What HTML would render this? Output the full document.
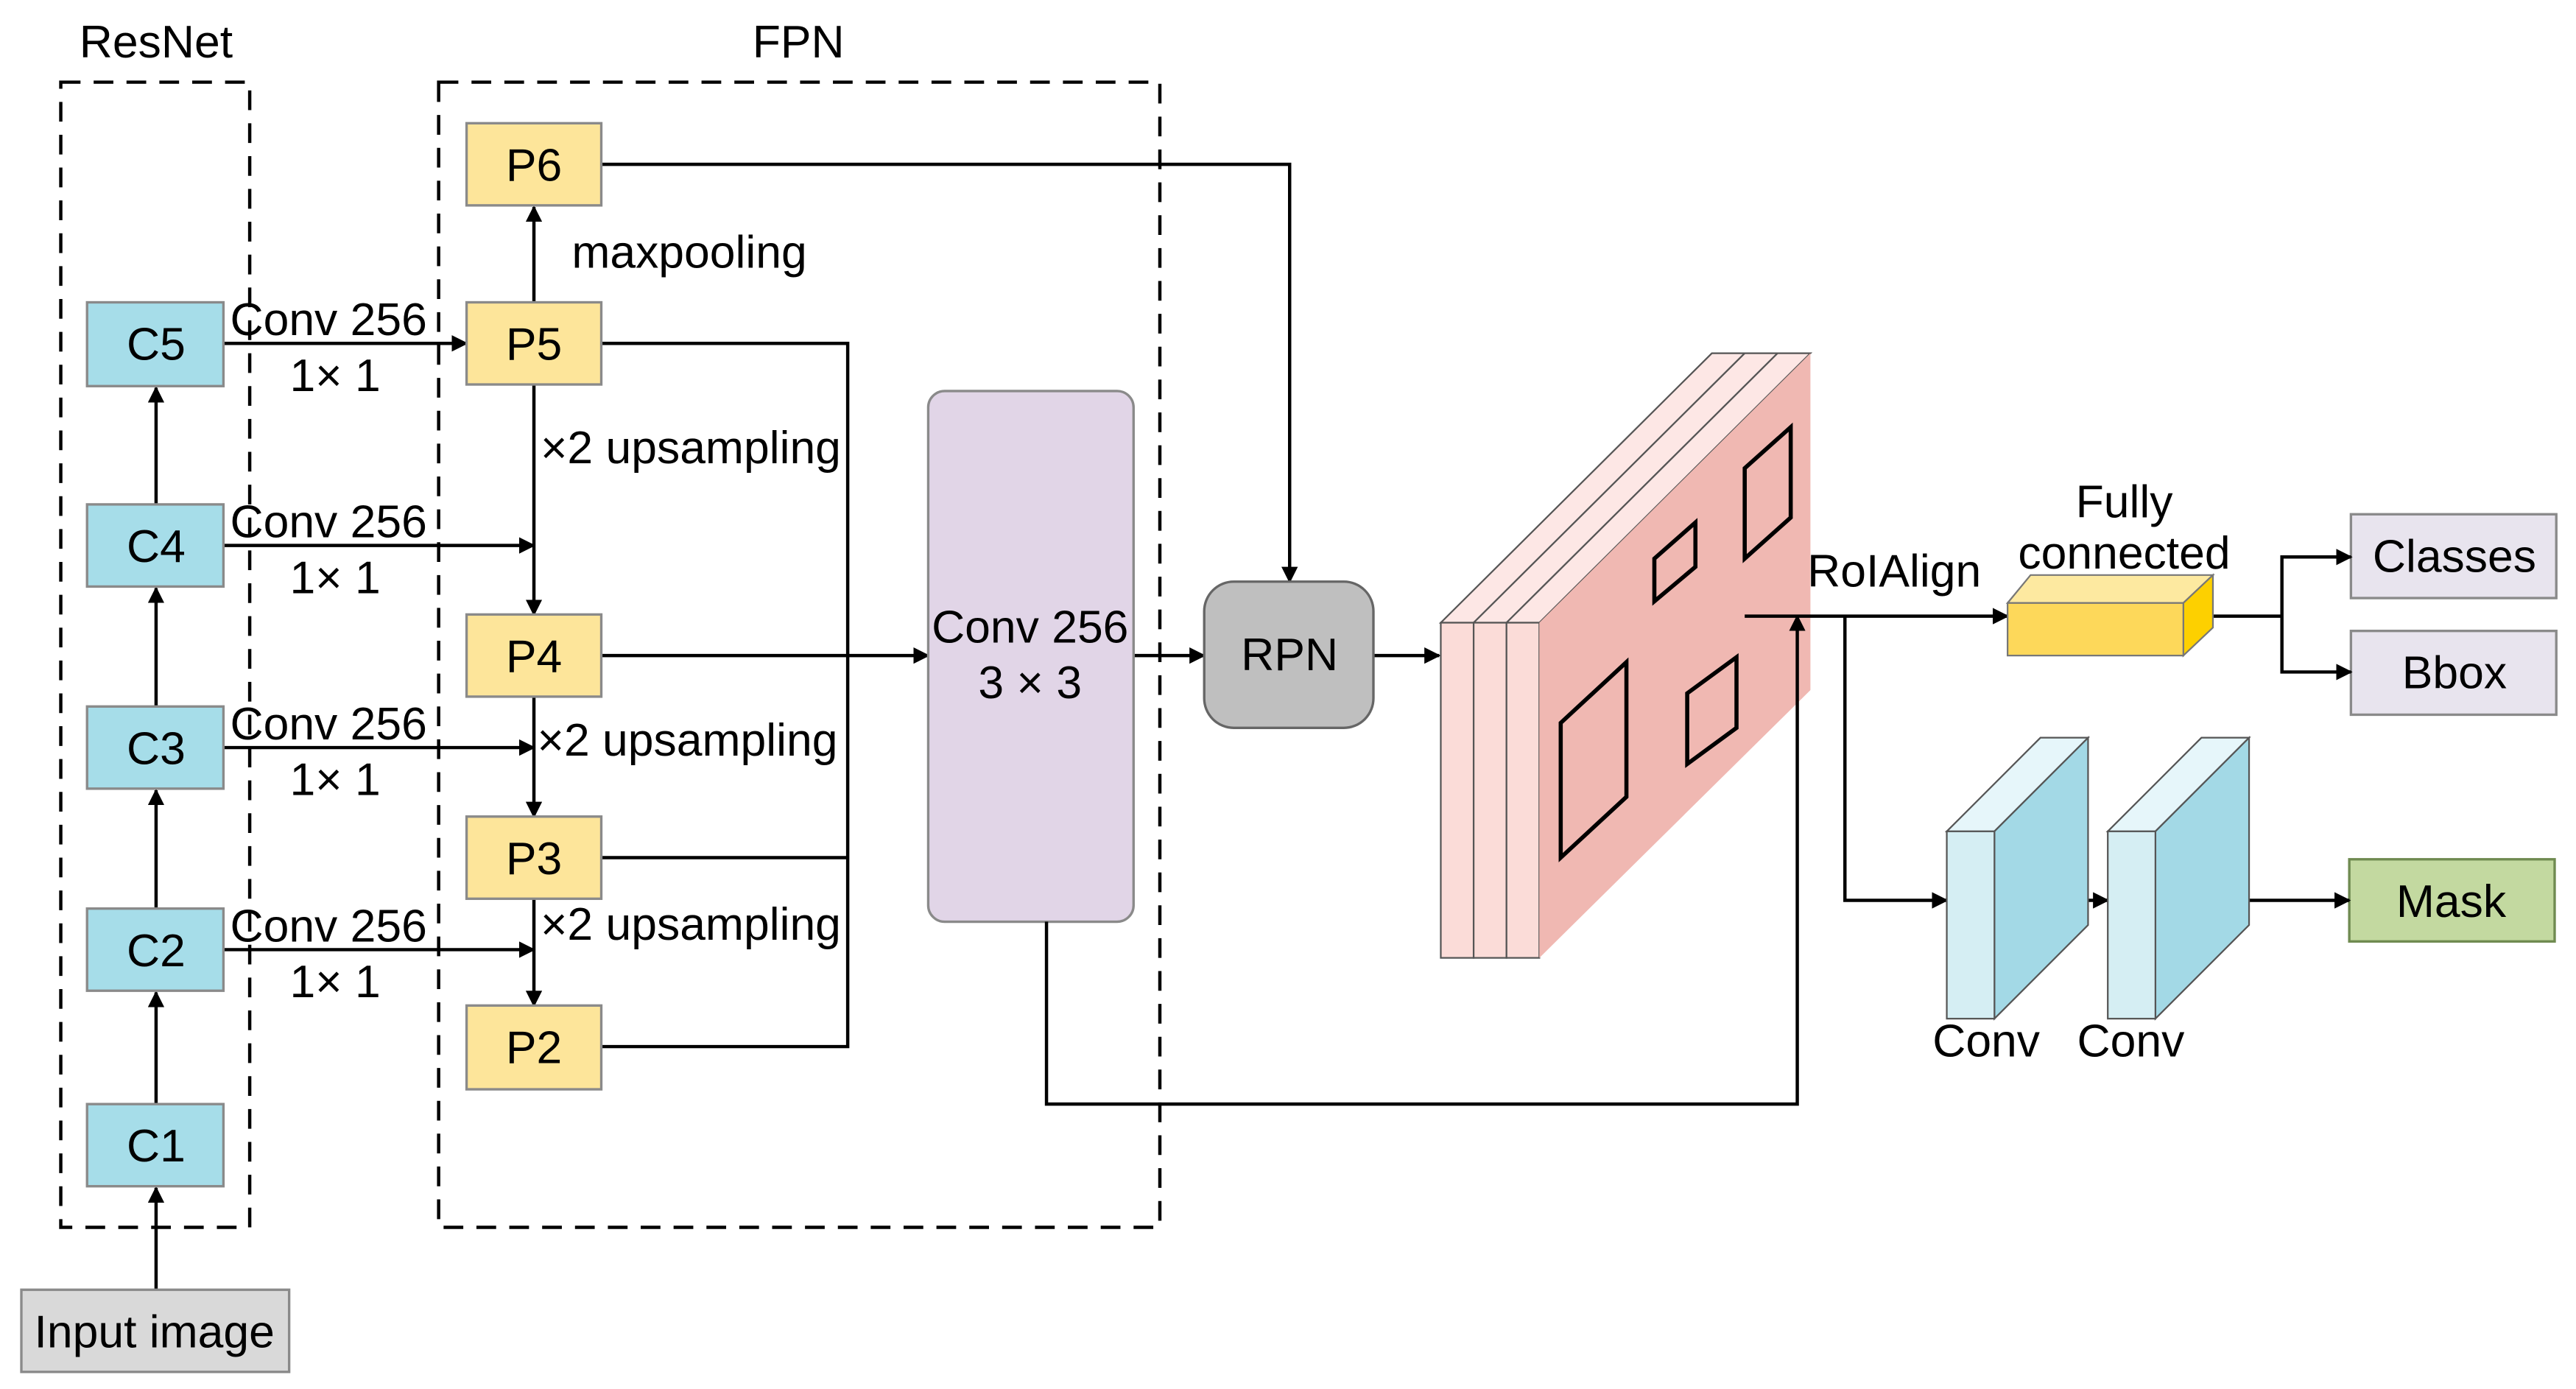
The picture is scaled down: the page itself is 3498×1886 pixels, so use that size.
<!DOCTYPE html>
<html><head><meta charset="utf-8"><style>html,body{margin:0;padding:0;background:#fff}svg{display:block}</style></head>
<body>
<svg width="3498" height="1886" viewBox="0 0 1568 845.4" xmlns="http://www.w3.org/2000/svg" font-family="Liberation Sans, Arial, sans-serif">
<defs>
<marker id="a" viewBox="0 0 10 10" refX="9" refY="5" markerWidth="5" markerHeight="5" orient="auto-start-reverse"><path d="M0,0 L10,5 L0,10 z" fill="#000"/></marker>
</defs>
<rect width="1568" height="846" fill="#fff"/>
<g fill="none" stroke="#000" stroke-width="2" stroke-dasharray="12,8">
<rect x="37" y="50" width="115" height="697"/>
<rect x="267" y="50" width="439" height="697"/>
</g>
<g font-size="28" text-anchor="middle">
<text x="95" y="35">ResNet</text>
<text x="486" y="35">FPN</text>
</g>
<g stroke="#000" stroke-width="2" fill="none">
<line x1="95" y1="785" x2="95" y2="723" marker-end="url(#a)"/>
<line x1="95" y1="672" x2="95" y2="604" marker-end="url(#a)"/>
<line x1="95" y1="553" x2="95" y2="481" marker-end="url(#a)"/>
<line x1="95" y1="430" x2="95" y2="358" marker-end="url(#a)"/>
<line x1="95" y1="307" x2="95" y2="236" marker-end="url(#a)"/>
<line x1="136" y1="209" x2="284" y2="209" marker-end="url(#a)"/>
<line x1="136" y1="332" x2="325" y2="332" marker-end="url(#a)"/>
<line x1="136" y1="455" x2="325" y2="455" marker-end="url(#a)"/>
<line x1="136" y1="578" x2="325" y2="578" marker-end="url(#a)"/>
<line x1="325" y1="184" x2="325" y2="126" marker-end="url(#a)"/>
<line x1="325" y1="234" x2="325" y2="374" marker-end="url(#a)"/>
<line x1="325" y1="424" x2="325" y2="497" marker-end="url(#a)"/>
<line x1="325" y1="547" x2="325" y2="612" marker-end="url(#a)"/>
<polyline points="366,209 516,209 516,637 366,637"/>
<line x1="366" y1="522" x2="516" y2="522"/>
<line x1="366" y1="399" x2="565" y2="399" marker-end="url(#a)"/>
<line x1="690" y1="399" x2="733" y2="399" marker-end="url(#a)"/>
<polyline points="366,100 785,100 785,354" marker-end="url(#a)"/>
<line x1="836" y1="399" x2="876" y2="399" marker-end="url(#a)"/>
</g>
<g stroke="#8a8a8a" stroke-width="1.5">
<g fill="#a6dde9">
<rect x="53" y="184" width="83" height="51"/>
<rect x="53" y="307" width="83" height="50"/>
<rect x="53" y="430" width="83" height="50"/>
<rect x="53" y="553" width="83" height="50"/>
<rect x="53" y="672" width="83" height="50"/>
</g>
<rect x="13" y="785" width="163" height="50" fill="#d9d9d9"/>
<g fill="#fde59a">
<rect x="284" y="75" width="82" height="50"/>
<rect x="284" y="184" width="82" height="50"/>
<rect x="284" y="374" width="82" height="50"/>
<rect x="284" y="497" width="82" height="50"/>
<rect x="284" y="612" width="82" height="51"/>
</g>
<rect x="565" y="238" width="125" height="323" rx="10" fill="#e1d5e7"/>
<rect x="733" y="354" width="103" height="89" rx="18" fill="#bfbfbf" stroke="#666"/>
<rect x="1431" y="313" width="125" height="51" fill="#e8e4ee"/>
<rect x="1431" y="384" width="125" height="51" fill="#e8e4ee"/>
<rect x="1430" y="523" width="125" height="50" fill="#c3d9a0" stroke="#6f8a50"/>
</g>
<g font-size="28" text-anchor="middle">
<text x="95" y="219">C5</text><text x="95" y="342">C4</text><text x="95" y="465">C3</text><text x="95" y="588">C2</text><text x="95" y="707">C1</text>
<text x="94" y="820">Input image</text>
<text x="325" y="110">P6</text><text x="325" y="219">P5</text><text x="325" y="409">P4</text><text x="325" y="532">P3</text><text x="325" y="647">P2</text>
<text x="627" y="391">Conv 256</text><text x="627" y="425">3 × 3</text>
<text x="785" y="408">RPN</text>
<text x="1494" y="348">Classes</text><text x="1494" y="419">Bbox</text><text x="1492" y="558">Mask</text>
</g>
<g font-size="28">
<text x="348" y="163">maxpooling</text>
<text x="329" y="282">×2 upsampling</text>
<text x="327" y="460">×2 upsampling</text>
<text x="329" y="572">×2 upsampling</text>
<g text-anchor="middle">
<text x="200" y="204">Conv 256</text><text x="204" y="238">1× 1</text>
<text x="200" y="327">Conv 256</text><text x="204" y="361">1× 1</text>
<text x="200" y="450">Conv 256</text><text x="204" y="484">1× 1</text>
<text x="200" y="573">Conv 256</text><text x="204" y="607">1× 1</text>
<text x="1153" y="357">RoIAlign</text>
<text x="1293" y="315">Fully</text><text x="1293" y="346">connected</text>
<text x="1209" y="643">Conv</text><text x="1297" y="643">Conv</text>
</g>
</g>
<g stroke="#555" stroke-width="1">
<polygon points="877,379 897,379 1062,215 1042,215" fill="#fde7e5"/>
<polygon points="897,379 917,379 1082,215 1062,215" fill="#fde7e5"/>
<polygon points="917,379 937,379 1102,215 1082,215" fill="#fde7e5"/>
<rect x="877" y="379" width="20" height="204" fill="#fbdcd8"/>
<rect x="897" y="379" width="20" height="204" fill="#fbdcd8"/>
<rect x="917" y="379" width="20" height="204" fill="#fbdcd8"/>
<polygon points="937,379 1102,215 1102,420 937,583" fill="#f0b8b2" stroke="none"/>
</g>
<g fill="none" stroke="#000" stroke-width="2.5">
<polygon points="950,522 950,440 990,403 990,485"/>
<polygon points="1027,465 1027,422 1057,400 1057,443"/>
<polygon points="1007,366 1007,340 1032,318 1032,345"/>
<polygon points="1062,340 1062,285 1090,260 1090,315"/>
</g>
<g stroke="#000" stroke-width="2" fill="none">
<polyline points="637,561 637,672 1094,672 1094,375" marker-end="url(#a)"/>
<line x1="1062" y1="375" x2="1222" y2="375" marker-end="url(#a)"/>
<polyline points="1123,375 1123,548 1185,548" marker-end="url(#a)"/>
<polyline points="1347,375 1389,375"/>
<polyline points="1431,339 1389,339 1389,409 1431,409" marker-start="url(#a)" marker-end="url(#a)"/>
<line x1="1253" y1="548" x2="1283" y2="548" marker-end="url(#a)"/>
<line x1="1369" y1="548" x2="1430" y2="548" marker-end="url(#a)"/>
</g>
<g stroke="#777" stroke-width="1">
<polygon points="1222,367 1236,350 1347,350 1329,367" fill="#fde9a0"/>
<polygon points="1329,367 1347,350 1347,382 1329,399" fill="#fdd000"/>
<rect x="1222" y="367" width="107" height="32" fill="#fdd85a"/>
</g>
<g stroke="#555" stroke-width="1">
<polygon points="1185,506 1242,449 1271,449 1214,506" fill="#e6f6fa"/>
<polygon points="1214,506 1271,449 1271,563 1214,620" fill="#a3d9e6"/>
<rect x="1185" y="506" width="29" height="114" fill="#d5eef3"/>
<polygon points="1283,506 1340,449 1369,449 1312,506" fill="#e6f6fa"/>
<polygon points="1312,506 1369,449 1369,563 1312,620" fill="#a3d9e6"/>
<rect x="1283" y="506" width="29" height="114" fill="#d5eef3"/>
</g>
</svg>
</body></html>
